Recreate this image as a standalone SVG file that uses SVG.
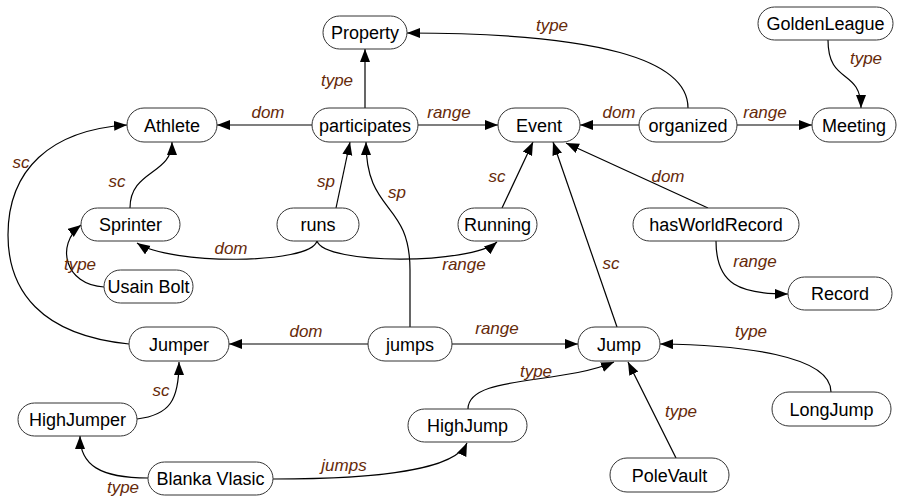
<svg xmlns="http://www.w3.org/2000/svg" width="901" height="497" viewBox="0 0 901 497">
<style>
.n rect{fill:#fff;stroke:#333;stroke-width:1}
.n text{font-family:"Liberation Sans",Arial,sans-serif;font-size:18px;fill:#000;text-anchor:middle}
.e path{fill:none;stroke:#000;stroke-width:1.2;marker-end:url(#ah)}
.l text{font-family:"Liberation Sans",Arial,sans-serif;font-size:17px;font-style:italic;fill:#662a0a;text-anchor:middle}
</style>
<defs>
<marker id="ah" markerUnits="userSpaceOnUse" markerWidth="14" markerHeight="11" refX="13" refY="5" orient="auto">
<path d="M0,0 L13,5 L0,10 z" fill="#000"/>
</marker>
</defs>
<rect width="901" height="497" fill="#fff"/>
<g class="e" id="connectors">
<path d="M365,108 L365,49"/>
<path d="M688,108 C688,60 600,33 407,33"/>
<path d="M312,125 L217,125"/>
<path d="M418,125 L498,125"/>
<path d="M639,125 L580,125"/>
<path d="M737,125 L812,125"/>
<path d="M828,40 C828,85 861,68 861,108"/>
<path d="M130,208 C130,170 172,175 172,142"/>
<path d="M129,344 C40,335 8,290 8,235 C8,170 50,130 127,125"/>
<path d="M336,208 L350,142"/>
<path d="M410,327 L410,270 C410,200 366,215 366,142"/>
<path d="M502,208 L533,142"/>
<path d="M617,327 L553,142"/>
<path d="M708,208 L566,143"/>
<path d="M317,241 C310,265 170,265 137,243"/>
<path d="M317,241 C325,265 470,265 497,242"/>
<path d="M104,287 C65,285 55,245 81,225"/>
<path d="M716,241 C716,285 740,294 788,294"/>
<path d="M368,344 L229,344"/>
<path d="M452,344 L578,344"/>
<path d="M137,419 C170,415 179,400 179,362"/>
<path d="M468,409 C468,375 560,385 614,362"/>
<path d="M831,392 C831,355 740,345 660,344"/>
<path d="M676,458 L628,362"/>
<path d="M148,478 C100,478 80,465 80,436"/>
<path d="M273,479 C380,479 455,470 467,443"/>
</g>
<g class="l" id="labels">
<text x="337" y="86">type</text>
<text x="552" y="31">type</text>
<text x="268" y="118">dom</text>
<text x="449" y="118">range</text>
<text x="619" y="118">dom</text>
<text x="765" y="118">range</text>
<text x="866" y="64">type</text>
<text x="117" y="187">sc</text>
<text x="21" y="168">sc</text>
<text x="326" y="187">sp</text>
<text x="397" y="198">sp</text>
<text x="497" y="182">sc</text>
<text x="611" y="269">sc</text>
<text x="668" y="182">dom</text>
<text x="231" y="254">dom</text>
<text x="464" y="270">range</text>
<text x="80" y="270">type</text>
<text x="755" y="267">range</text>
<text x="306" y="337">dom</text>
<text x="497" y="334">range</text>
<text x="751" y="337">type</text>
<text x="161" y="396">sc</text>
<text x="536" y="377">type</text>
<text x="681" y="417">type</text>
<text x="123" y="493">type</text>
<text x="344" y="471">jumps</text>
</g>
<g class="n" id="Property"><rect x="323" y="16" width="84" height="33" rx="16.5"/><text x="365" y="39">Property</text></g>
<g class="n" id="Athlete"><rect x="127" y="108" width="90" height="34" rx="17"/><text x="172" y="131.5">Athlete</text></g>
<g class="n" id="participates"><rect x="312" y="108" width="106" height="34" rx="17"/><text x="365" y="131.5">participates</text></g>
<g class="n" id="Event"><rect x="498" y="108" width="82" height="34" rx="17"/><text x="539" y="131.5">Event</text></g>
<g class="n" id="organized"><rect x="639" y="108" width="98" height="34" rx="17"/><text x="688" y="131.5">organized</text></g>
<g class="n" id="Meeting"><rect x="812" y="108" width="84" height="34" rx="17"/><text x="854" y="131.5">Meeting</text></g>
<g class="n" id="GoldenLeague"><rect x="758" y="7" width="135" height="33" rx="16.5"/><text x="825.5" y="30">GoldenLeague</text></g>
<g class="n" id="Sprinter"><rect x="81" y="208" width="99" height="33" rx="16.5"/><text x="130.5" y="231">Sprinter</text></g>
<g class="n" id="runs"><rect x="277" y="208" width="82" height="33" rx="16.5"/><text x="318" y="231">runs</text></g>
<g class="n" id="Running"><rect x="458" y="208" width="79" height="33" rx="16.5"/><text x="497.5" y="231">Running</text></g>
<g class="n" id="hasWorldRecord"><rect x="633" y="208" width="166" height="33" rx="16.5"/><text x="716" y="231">hasWorldRecord</text></g>
<g class="n" id="UsainBolt"><rect x="104" y="270" width="89" height="33" rx="16.5"/><text x="148.5" y="293">Usain Bolt</text></g>
<g class="n" id="Record"><rect x="788" y="277" width="104" height="33" rx="16.5"/><text x="840" y="300">Record</text></g>
<g class="n" id="Jumper"><rect x="129" y="327" width="100" height="34" rx="17"/><text x="179" y="350.5">Jumper</text></g>
<g class="n" id="jumps"><rect x="368" y="327" width="84" height="34" rx="17"/><text x="410" y="350.5">jumps</text></g>
<g class="n" id="Jump"><rect x="578" y="327" width="82" height="34" rx="17"/><text x="619" y="350.5">Jump</text></g>
<g class="n" id="HighJumper"><rect x="18" y="403" width="119" height="33" rx="16.5"/><text x="77.5" y="426">HighJumper</text></g>
<g class="n" id="HighJump"><rect x="408" y="409" width="119" height="33" rx="16.5"/><text x="467.5" y="432">HighJump</text></g>
<g class="n" id="LongJump"><rect x="772" y="392" width="119" height="34" rx="17"/><text x="831.5" y="415.5">LongJump</text></g>
<g class="n" id="BlankaVlasic"><rect x="148" y="462" width="125" height="33" rx="16.5"/><text x="210.5" y="485">Blanka Vlasic</text></g>
<g class="n" id="PoleVault"><rect x="610" y="458" width="119" height="34" rx="17"/><text x="669.5" y="481.5">PoleVault</text></g>
</svg>
